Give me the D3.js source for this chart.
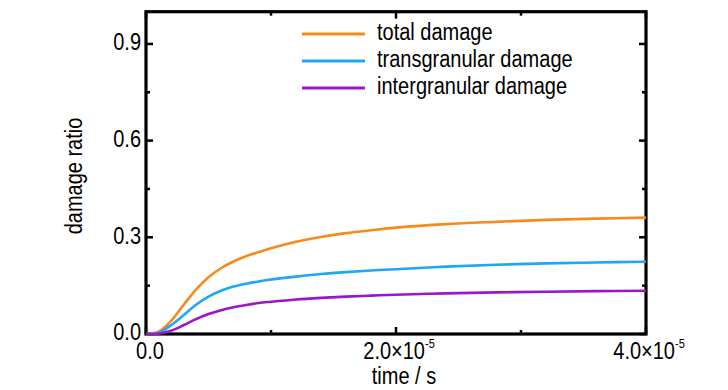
<!DOCTYPE html>
<html>
<head>
<meta charset="utf-8">
<script src="https://cdn.jsdelivr.net/npm/d3@7/dist/d3.min.js"></script>
<style>
  html, body { margin: 0; padding: 0; background: #fff; }
  svg text { font-family: "Liberation Sans", Arial, sans-serif; fill: #000; }
</style>
</head>
<body>
<svg id="chart" width="728" height="390"></svg>
<script>
// time in units of 1e-5 s
const times = [0, 0.1, 0.2, 0.3, 0.4, 0.5, 0.6, 0.7, 0.8, 0.9, 1.0, 1.2, 1.4, 1.6, 1.8, 2.0, 2.4, 2.8, 3.2, 3.6, 4.0];
const totalDamage = [0, 0.007, 0.040, 0.090, 0.138, 0.176, 0.204, 0.225, 0.241, 0.254, 0.266, 0.286, 0.301, 0.313, 0.322, 0.330, 0.341, 0.348, 0.354, 0.358, 0.361];
const transDamage = [0, 0.004, 0.027, 0.058, 0.091, 0.116, 0.134, 0.147, 0.156, 0.163, 0.169, 0.178, 0.186, 0.192, 0.197, 0.201, 0.209, 0.215, 0.219, 0.222, 0.224];
const interDamage = [0, 0.001, 0.010, 0.027, 0.046, 0.062, 0.074, 0.083, 0.090, 0.096, 0.100, 0.107, 0.112, 0.116, 0.119, 0.122, 0.126, 0.129, 0.131, 0.133, 0.134];
const seriesNames = ["total damage", "transgranular damage", "intergranular damage"];
const seriesColors = ["#f58a1f", "#1fa7f2", "#9a17c9"];
const yMajorTicks = [0.0, 0.3, 0.6, 0.9];
const yMinorTicks = [0.15, 0.45, 0.75];
const xMajorTicks = [0, 2, 4];
const xMinorTicks = [1, 3];
const xTickMantissa = ["0.0", "2.0", "4.0"];
const xExponent = "-5";

const svg = d3.select("#chart");
const pL = 146, pR = 646, pT = 11.7, pB = 334;
const x = d3.scaleLinear().domain([0, 4]).range([pL, pR]);
const y = d3.scaleLinear().domain([0, 1]).range([pB, pT]);

// ticks (inward, all four sides)
const tickG = svg.append("g").attr("stroke", "#000").attr("stroke-width", 2.5);
function yTick(v, len) {
  tickG.append("line").attr("x1", pL).attr("x2", pL + len).attr("y1", y(v)).attr("y2", y(v));
  tickG.append("line").attr("x1", pR).attr("x2", pR - len).attr("y1", y(v)).attr("y2", y(v));
}
function xTick(v, len) {
  tickG.append("line").attr("x1", x(v)).attr("x2", x(v)).attr("y1", pB).attr("y2", pB - len);
  tickG.append("line").attr("x1", x(v)).attr("x2", x(v)).attr("y1", pT).attr("y2", pT + len);
}
yMajorTicks.forEach(v => yTick(v, 7));
yMinorTicks.forEach(v => yTick(v, 4));
xMajorTicks.forEach(v => xTick(v, 7));
xMinorTicks.forEach(v => xTick(v, 4));

// frame
svg.append("rect").attr("x", pL).attr("y", pT).attr("width", pR - pL).attr("height", pB - pT)
  .attr("fill", "none").attr("stroke", "#000").attr("stroke-width", 3.2);

// lines
const allSeries = [totalDamage, transDamage, interDamage];
const line = d3.line().x((d, i) => x(times[i])).y(d => y(d)).curve(d3.curveCatmullRom.alpha(0.5));
allSeries.forEach((s, k) => {
  svg.append("path").datum(s).attr("d", line).attr("fill", "none")
    .attr("stroke", seriesColors[k]).attr("stroke-width", 2.6).attr("stroke-linejoin", "round");
});

// text helper
const sy = 1.15;
function label(tx, ty, str, anchor, size) {
  return svg.append("text")
    .attr("transform", `translate(${tx},${ty}) scale(1,${sy})`)
    .attr("text-anchor", anchor).attr("font-size", size).text(str);
}
// y tick labels
yMajorTicks.forEach(v => {
  label(141, y(v) + 6.3, v.toFixed(1), "end", 20);
});

// x tick labels
xMajorTicks.forEach((v, i) => {
  if (v === 0) {
    label(x(v) + 4, 358.5, xTickMantissa[i], "middle", 20);
  } else {
    const t = svg.append("text")
      .attr("transform", `translate(${x(v) + 3},358.5) scale(1,${sy})`)
      .attr("text-anchor", "middle").attr("font-size", 20);
    t.append("tspan").text(xTickMantissa[i] + "\u00d710");
    t.append("tspan").attr("font-size", 11).attr("dy", -9).text(xExponent);
  }
});

// axis titles
label(404, 384, "time / s", "middle", 20);
svg.append("text")
  .attr("transform", `translate(82,176) rotate(-90) scale(1,${sy})`)
  .attr("text-anchor", "middle").attr("font-size", 20).text("damage ratio");

// legend
seriesNames.forEach((n, k) => {
  const ly = 34 + k * 27;
  svg.append("line").attr("x1", 302).attr("x2", 365).attr("y1", ly).attr("y2", ly)
    .attr("stroke", seriesColors[k]).attr("stroke-width", 3);
  label(377, ly + 6, n, "start", 20);
});
</script>
</body>
</html>
